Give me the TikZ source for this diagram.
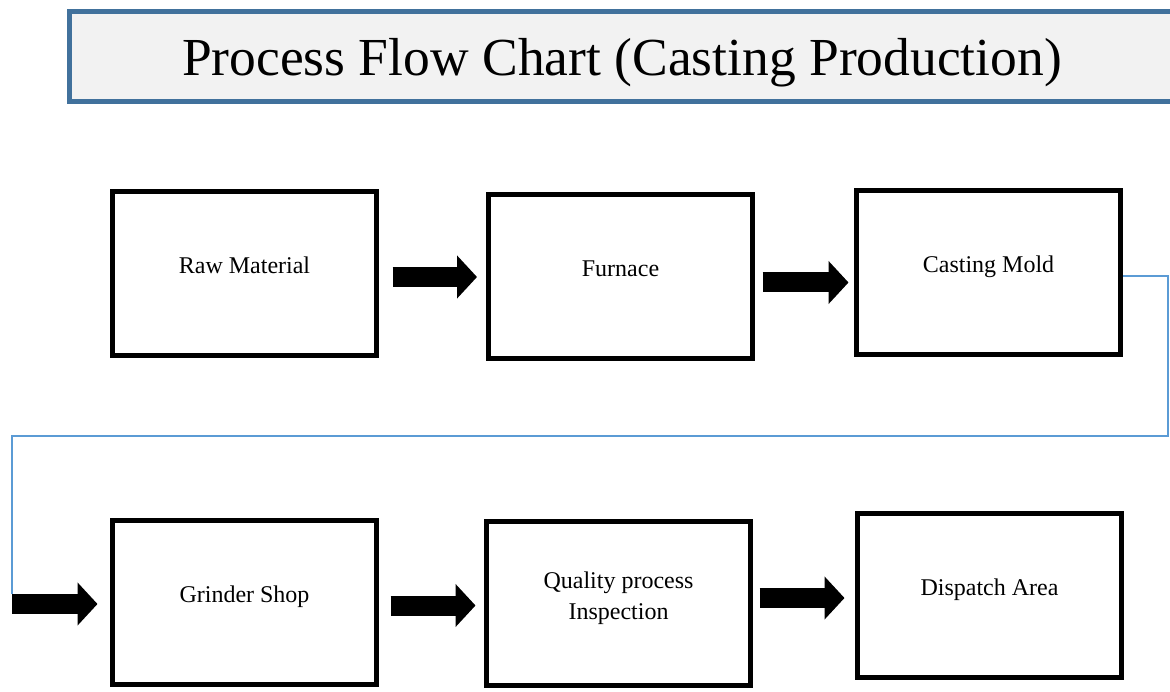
\documentclass[tikz,border=0pt]{standalone}
\usepackage{fontspec}
\setmainfont{Liberation Serif}
\usepackage{tikz}
\usetikzlibrary{arrows.meta,positioning,calc}
\usepackage{xcolor}
\definecolor{titleblue}{HTML}{41719C}
\definecolor{titlegray}{HTML}{F2F2F2}
\definecolor{linkblue}{HTML}{5B9BD5}

\begin{document}
\begin{tikzpicture}[
  x=1pt, y=-1pt,
  stage/.style={draw, line width=5pt, minimum width=264pt, minimum height=164pt, inner sep=0pt, text height=8pt, text depth=8pt, align=center, font=\fontsize{24}{31}\selectfont},
  flow/.style={line width=20pt, -{Triangle[length=20pt, width=42pt]}},
  link/.style={draw=linkblue, line width=1.5pt},
]
\useasboundingbox (0,0) rectangle (1170,692);

\node[draw=titleblue, fill=titlegray, line width=5pt, minimum width=1105pt, minimum height=89.5pt, inner sep=0pt, text depth=0pt, font=\fontsize{53.5}{60}\selectfont] (title) at (622,56.75) {Process Flow Chart (Casting Production)};

\node[stage] (raw) at (244.5,273.5) {Raw Material};
\node[stage] (furnace) at (620.5,277) {Furnace};
\node[stage] (mold) at (988.5,273) {Casting Mold};
\node[stage] (grinder) at (244.5,602.5) {Grinder Shop};
\node[stage, text height=39pt] (quality) at (618.5,603.5) {Quality process\\Inspection};
\node[stage] (dispatch) at (989.5,595) {Dispatch Area};

\coordinate (turn) at (1168,436);
\coordinate (feed) at (12,604);

\draw[flow] ($(raw.east |- furnace.west)+(13.5,0)$) -- ($(furnace.west)+(-9,0)$);
\draw[flow] ($(furnace.east)+(7.5,5.5)$) -- ($(mold.west |- furnace.east)+(-5.5,5.5)$);
\draw[link] ($(mold.east)+(0,3)$) -| (turn) -| ($(feed)+(0,-10)$);
\draw[flow] (feed) -- ($(grinder.west |- feed)+(-12.5,0)$);
\draw[flow] ($(grinder.east)+(11.5,3)$) -- ($(quality.west |- grinder.east)+(-8.5,3)$);
\draw[flow] ($(quality.east)+(6.5,-5.5)$) -- ($(dispatch.west |- quality.east)+(-10.5,-5.5)$);
\end{tikzpicture}
\end{document}
